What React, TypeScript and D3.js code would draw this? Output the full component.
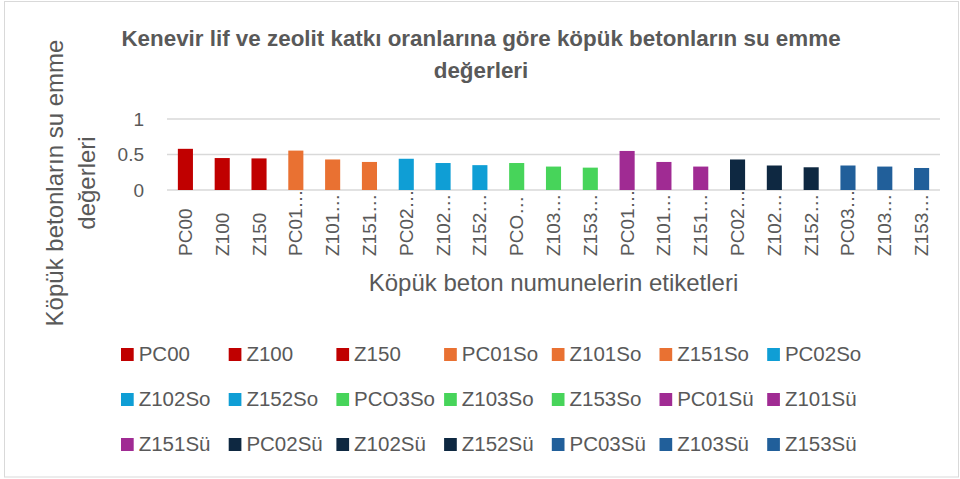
import React from 'react';
import * as d3 from 'd3';

// sample names (legend) and what the x axis actually shows (truncated)
const categories = [
  'PC00', 'Z100', 'Z150', 'PC01So', 'Z101So', 'Z151So', 'PC02So',
  'Z102So', 'Z152So', 'PCO3So', 'Z103So', 'Z153So', 'PC01Sü', 'Z101Sü',
  'Z151Sü', 'PC02Sü', 'Z102Sü', 'Z152Sü', 'PC03Sü', 'Z103Sü', 'Z153Sü',
];
const tickLabels = [
  'PC00', 'Z100', 'Z150', 'PC01…', 'Z101…', 'Z151…', 'PC02…',
  'Z102…', 'Z152…', 'PCO…', 'Z103…', 'Z153…', 'PC01…', 'Z101…',
  'Z151…', 'PC02…', 'Z102…', 'Z152…', 'PC03…', 'Z103…', 'Z153…',
];
const values = [
  0.58, 0.45, 0.445, 0.555, 0.43, 0.395, 0.44,
  0.38, 0.35, 0.38, 0.33, 0.315, 0.55, 0.395,
  0.33, 0.43, 0.345, 0.32, 0.345, 0.33, 0.31,
];
const colors = [
  '#C00000', '#C00000', '#C00000', '#E97132', '#E97132', '#E97132', '#0F9ED5',
  '#0F9ED5', '#0F9ED5', '#47D45A', '#47D45A', '#47D45A', '#A02B93', '#A02B93',
  '#A02B93', '#0E2841', '#0E2841', '#0E2841', '#215F9A', '#215F9A', '#215F9A',
];
const yTicks = [0, 0.5, 1];

const W = 960, H = 479;
const margin = { left: 167, right: 20, top: 119, bottom: 289 };
const font = '"Liberation Sans", Arial, sans-serif';
const grey = '#595959';

function App() {
  const x = d3.scaleBand<string>()
    .domain(categories)
    .range([margin.left, W - margin.right])
    .paddingInner(0.59)
    .paddingOuter(0.295);

  const y = d3.scaleLinear()
    .domain([0, 1])
    .range([H - margin.bottom, margin.top]);

  const plotMid = (margin.left + W - margin.right) / 2;

  // legend: 7 columns, 3 rows
  const legendCols = 7;
  const colW = 107.7;

  return (
    <svg width={W} height={H} style={{ position: 'absolute', left: 0, top: 0, background: '#fff' }}>
      <rect x={4.5} y={1.5} width={W - 6} height={H - 3.5} fill="#fff" stroke="#d9d9d9" />

      {/* title */}
      <text x={481} y={46} textAnchor="middle" fontFamily={font} fontWeight="bold" fontSize={22.4} fill={grey}>
        Kenevir lif ve zeolit katkı oranlarına göre köpük betonların su emme
      </text>
      <text x={481} y={78} textAnchor="middle" fontFamily={font} fontWeight="bold" fontSize={22.4} fill={grey}>
        değerleri
      </text>

      {/* gridlines */}
      {yTicks.map(t => (
        <g key={t}>
          <line x1={margin.left} x2={W - margin.right} y1={y(t)} y2={y(t)} stroke="#d9d9d9" strokeWidth={1.3} />
          <text x={144} y={y(t)} dy="0.35em" textAnchor="end" fontFamily={font} fontSize={19} fill={grey}>
            {d3.format('~g')(t)}
          </text>
        </g>
      ))}

      {/* bars */}
      {categories.map((c, i) => (
        <rect key={c} x={x(c)} y={y(values[i])} width={x.bandwidth()}
          height={y(0) - y(values[i])} fill={colors[i]} />
      ))}

      {/* x tick labels */}
      {categories.map((c, i) => {
        const cx = (x(c) as number) + x.bandwidth() / 2;
        return (
          <text key={c} transform={`translate(${cx + 6.5},256) rotate(-90)`}
            fontFamily={font} fontSize={19} fill={grey}>
            {tickLabels[i]}
          </text>
        );
      })}

      {/* axis titles */}
      <text x={plotMid} y={291} textAnchor="middle" fontFamily={font} fontSize={24} fill={grey}>
        Köpük beton numunelerin etiketleri
      </text>
      <g transform="translate(63,183) rotate(-90)">
        <text x={0} y={0} textAnchor="middle" fontFamily={font} fontSize={24} fill={grey}>
          Köpük betonların su emme
        </text>
        <text x={0} y={32} textAnchor="middle" fontFamily={font} fontSize={24} fill={grey}>
          değerleri
        </text>
      </g>

      {/* legend */}
      {categories.map((c, i) => {
        const col = i % legendCols;
        const row = Math.floor(i / legendCols);
        const lx = 121 + col * colW;
        const ly = 354.5 + row * 45;
        return (
          <g key={c} transform={`translate(${lx},${ly})`}>
            <rect x={0} y={-6.5} width={12.7} height={13} fill={colors[i]} />
            <text x={17.7} y={6.5} fontFamily={font} fontSize={20.5} fill={grey}>{c}</text>
          </g>
        );
      })}
    </svg>
  );
}

export default App;
